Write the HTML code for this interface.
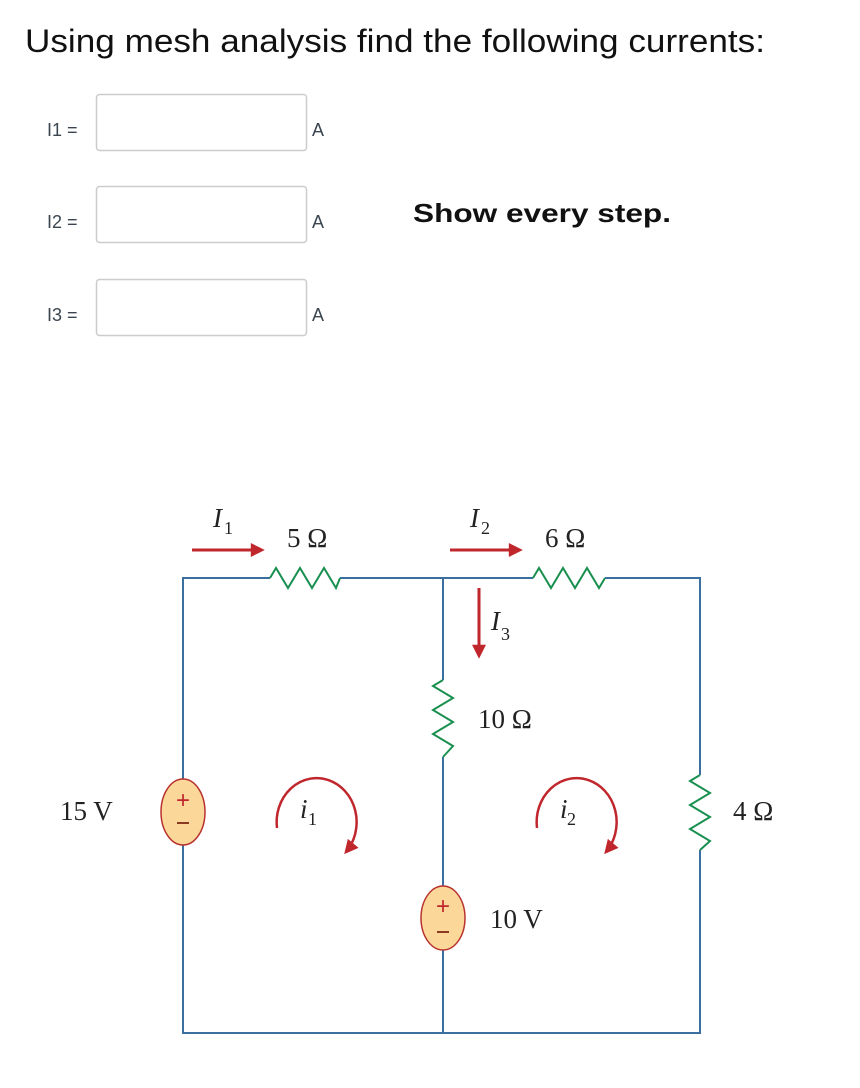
<!DOCTYPE html>
<html><head><meta charset="utf-8"><style>
html,body{margin:0;padding:0;background:#fff;}
svg{display:block;}
</style></head><body>
<svg width="860" height="1088" viewBox="0 0 860 1088" xmlns="http://www.w3.org/2000/svg">
<defs>
<marker id="ar" viewBox="0 0 10 10" refX="8" refY="5" markerWidth="16" markerHeight="14" orient="auto" markerUnits="userSpaceOnUse"><path d="M0,0 L10,5 L0,10 z" fill="#c0272d"/></marker>
</defs>
<text x="25" y="52" font-family="Liberation Sans, sans-serif" font-size="32" fill="#111" textLength="740" lengthAdjust="spacingAndGlyphs">Using mesh analysis find the following currents:</text>

<g font-family="Liberation Sans, sans-serif" font-size="18" fill="#3a4550">
<text x="47" y="136">I1 =</text>
<text x="47" y="228">I2 =</text>
<text x="47" y="321">I3 =</text>
<text x="312" y="136">A</text>
<text x="312" y="228">A</text>
<text x="312" y="321">A</text>
</g>
<g fill="#fff" stroke="#ccc" stroke-width="1.5">
<rect x="96.5" y="94.5" width="210" height="56" rx="3"/>
<rect x="96.5" y="186.5" width="210" height="56" rx="3"/>
<rect x="96.5" y="279.5" width="210" height="56" rx="3"/>
</g>
<text x="413" y="222" font-family="Liberation Sans, sans-serif" font-size="26" font-weight="bold" fill="#111" textLength="258" lengthAdjust="spacingAndGlyphs">Show every step.</text>

<!-- wires -->
<g stroke="#3a6fa0" stroke-width="2" fill="none">
<path d="M183,795 V578 H270 M340,578 H533 M605,578 H700 V775 M700,850 V1033 H183 V829"/>
<path d="M443,578 V680 M443,757 V886 M443,950 V1033"/>
</g>
<!-- resistors -->
<g stroke="#1a9050" stroke-width="2" fill="none">
<path d="M270,578 L276,568 L288,588 L300,568 L312,588 L324,568 L336,588 L340,578"/>
<path d="M533,578 L539,568 L551,588 L563,568 L575,588 L587,568 L599,588 L605,578"/>
<path d="M443,680 L433,686 L453,698 L433,710 L453,722 L433,734 L453,746 L443,757"/>
<path d="M700,775 L690,781 L710,793 L690,805 L710,817 L690,829 L710,841 L700,850"/>
</g>
<!-- sources -->
<g stroke="#b8322e" stroke-width="1.5" fill="#fbd89a">
<ellipse cx="183" cy="812" rx="22" ry="33"/>
<ellipse cx="443" cy="918" rx="22" ry="32"/>
</g>
<g font-family="Liberation Sans, sans-serif" fill="#c0272d" font-size="24" text-anchor="middle">
<text x="183" y="808">+</text>
<text x="443" y="914">+</text>
</g>
<g stroke="#8a3a20" stroke-width="2">
<path d="M177,823 H189"/><path d="M437,932 H449"/>
</g>
<!-- current arrows -->
<g stroke="#c0272d" stroke-width="3" fill="none">
<path d="M192,550 H262" marker-end="url(#ar)"/>
<path d="M450,550 H520" marker-end="url(#ar)"/>
<path d="M479,588 V656" marker-end="url(#ar)"/>
<path d="M277,828 A40,44 0 1 1 346,852" stroke-width="2.5" marker-end="url(#ar)"/>
<path d="M537,828 A40,44 0 1 1 606,852" stroke-width="2.5" marker-end="url(#ar)"/>
</g>
<!-- labels -->
<g font-family="Liberation Serif, serif" fill="#222" font-size="27">
<text x="287" y="547">5 Ω</text>
<text x="545" y="547">6 Ω</text>
<text x="478" y="728">10 Ω</text>
<text x="733" y="820">4 Ω</text>
<text x="60" y="820">15 V</text>
<text x="490" y="928">10 V</text>
<text x="213" y="527" font-style="italic">I</text>
<text x="470" y="527" font-style="italic">I</text>
<text x="491" y="630" font-style="italic">I</text>
<text x="300" y="818" font-style="italic">i</text>
<text x="560" y="818" font-style="italic">i</text>
</g>
<g font-family="Liberation Serif, serif" fill="#222" font-size="18">
<text x="224" y="534">1</text>
<text x="481" y="534">2</text>
<text x="501" y="640">3</text>
<text x="308" y="825">1</text>
<text x="567" y="825">2</text>
</g>
</svg>
</body></html>
